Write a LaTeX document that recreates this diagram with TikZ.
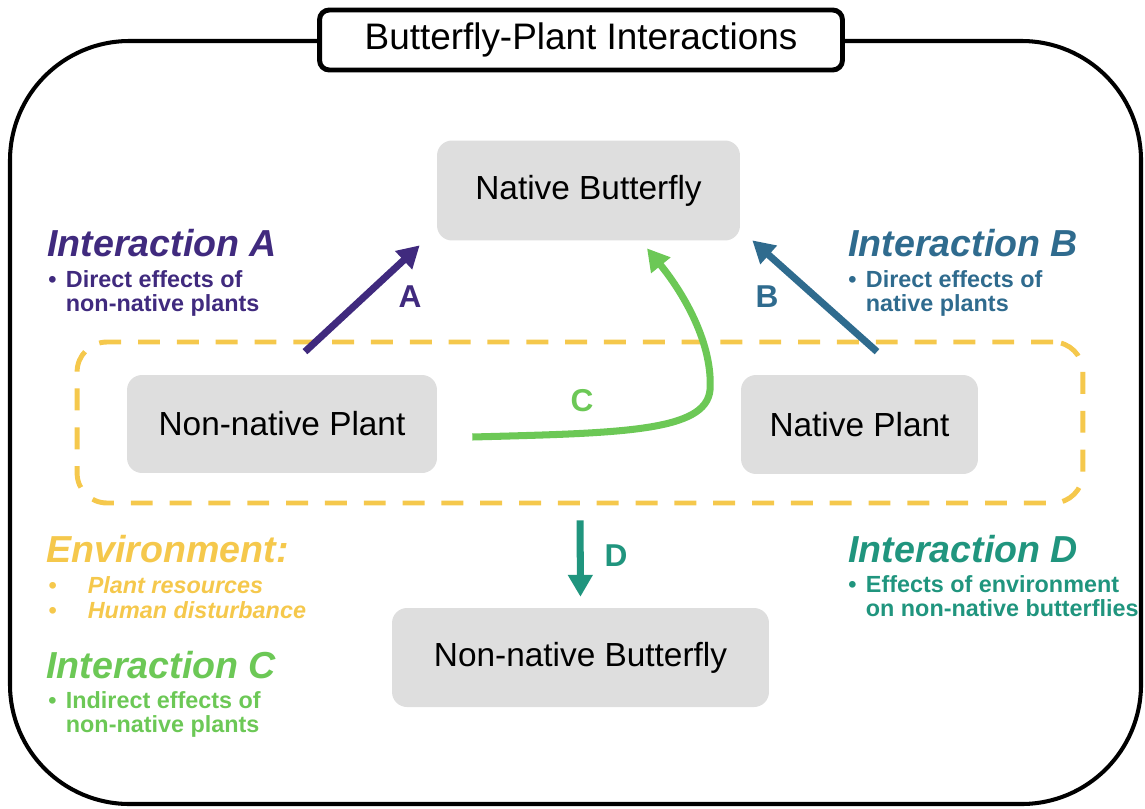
\documentclass[tikz,border=0pt]{standalone}
\usepackage{fontspec}
\setmainfont{Liberation Sans}
\usetikzlibrary{arrows.meta,calc}

\definecolor{colA}{RGB}{64,42,126}
\definecolor{colB}{RGB}{47,107,142}
\definecolor{colC}{RGB}{108,200,86}
\definecolor{colD}{RGB}{32,149,126}
\definecolor{colE}{RGB}{245,200,76}
\definecolor{boxgray}{RGB}{222,222,222}

\newcommand{\bitem}[1]{\makebox[10pt][l]{\textbullet}#1}
\newcommand{\bmore}[1]{\hspace*{10pt}#1}
\newcommand{\eitem}[1]{\makebox[22.5pt][l]{\textbullet}#1}

\begin{document}
\begin{tikzpicture}[x=0.02cm,y=-0.02cm,>={Triangle[length=12.5pt,width=13.5pt]}]

  \tikzstyle{frame}=[draw=black,line width=2.3pt,rounded corners=68pt]
  \tikzstyle{titlebox}=[draw=black,fill=white,line width=2.8pt,rounded corners=5.5pt,
    minimum width=10.46cm,minimum height=1.2cm,font=\fontsize{21}{24}\selectfont]
  \tikzstyle{organism}=[rectangle,rounded corners=8.5pt,fill=boxgray,
    font=\fontsize{19}{22}\selectfont]
  \tikzstyle{envbox}=[draw=colE,line width=2.8pt,rounded corners=17pt,
    dash pattern=on 12.5pt off 9.6pt,minimum width=20.12cm,minimum height=3.22cm]
  \tikzstyle{head}=[anchor=base west,inner sep=0pt,
    font=\fontsize{21.4}{24}\selectfont\bfseries\itshape]
  \tikzstyle{bullets}=[anchor=north west,inner sep=0pt,align=left,
    font=\fontsize{13.3}{13.8}\selectfont\bfseries]
  \tikzstyle{letter}=[font=\fontsize{18}{20}\selectfont\bfseries]

  \useasboundingbox (0,0) rectangle (1145,808);

  %% outer frame and title
  \draw [frame] (10,41) rectangle (1141,804);
  \node (title) at (581,40)   [titlebox] {Butterfly-Plant Interactions};

  %% environment
  \node (env)   at (580,422.5) [envbox] {};

  \node (nb)    at (588.5,190.5) [organism,minimum width=6.06cm,minimum height=2.0cm]
        {Native Butterfly};
  \node (nnp)   at (282,424)     [organism,minimum width=6.2cm,minimum height=1.96cm]
        {Non-native Plant};
  \node (np)    at (859.5,424.5) [organism,minimum width=4.74cm,minimum height=1.98cm]
        {Native Plant};
  \node (nnb)   at (580.5,657.5) [organism,minimum width=7.54cm,minimum height=1.98cm]
        {Non-native Butterfly};

  \tikzstyle{link}=[->,line width=4pt]

  \draw [link,colA] ($(nnp.north)+(23,-23)$) -- ($(nb.south west)+(-17,4.5)$);
  \draw [link,colB] ($(np.north)+(17.5,-23)$) -- ($(nb.south east)+(12,-0.5)$);
  \draw [link,colC] ($(nnp.east)+(35,13)$)
        .. controls (620,433) and (706,432) .. (710,390)
        .. controls (713,345) and (685,295) .. ($(nb.south)+(58.5,7.5)$);
  \draw [link,colD,shorten <=8.5pt,shorten >=6.2pt] (env.south) -- (nnb.north);

  \node (labA) at (410,297) [letter,text=colA] {A};
  \node (labB) at (767,297) [letter,text=colB] {B};
  \node (labC) at (582,401) [letter,text=colC] {C};
  \node (labD) at (616,556) [letter,text=colD] {D};

  %% legends
  \node (intA)  at (47,256)  [head,text=colA] {Interaction A};
  \node (lstA)  at (48,270)  [bullets,text=colA]
        {\bitem{Direct effects of}\\ \bmore{non-native plants}};

  \node (intB)  at (848,256) [head,text=colB] {Interaction B};
  \node (lstB)  at (848,270) [bullets,text=colB]
        {\bitem{Direct effects of}\\ \bmore{native plants}};

  \node (envt)  at (46,562)  [head,text=colE] {Environment:};
  \node (lstE)  at (48,576)  [bullets,text=colE,font=\fontsize{13.3}{14.5}\selectfont\bfseries\itshape]
        {\eitem{Plant resources}\\ \eitem{Human disturbance}};

  \node (intC)  at (46,678)  [head,text=colC] {Interaction C};
  \node (lstC)  at (48,691)  [bullets,text=colC]
        {\bitem{Indirect effects of}\\ \bmore{non-native plants}};

  \node (intD)  at (848,562) [head,text=colD] {Interaction D};
  \node (lstD)  at (848,575) [bullets,text=colD]
        {\bitem{Effects of environment}\\ \bmore{on non-native butterflies}};
\end{tikzpicture}
\end{document}
